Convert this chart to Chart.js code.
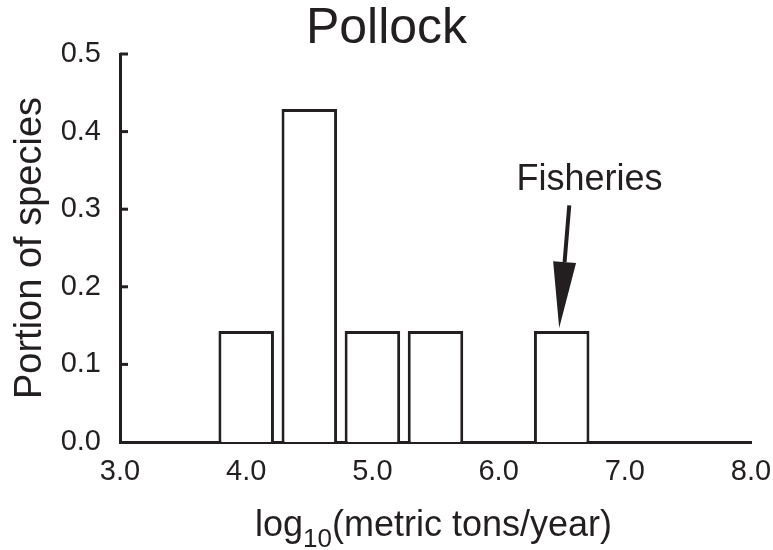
<!DOCTYPE html>
<html>
<head>
<meta charset="utf-8">
<script src="https://cdn.jsdelivr.net/npm/chart.js@4"></script>
<style>
  html, body { margin: 0; padding: 0; background: #fff; }
  #wrap { width: 773px; height: 550px; }
</style>
</head>
<body>
<div id="wrap"><canvas id="myChart" width="773" height="550"></canvas></div>
<script>
// histogram bins (log10 of catch) and share of species in each
const binCenters = [4.0, 4.5, 5.0, 5.5, 6.5];
const portions = [0.143, 0.429, 0.143, 0.143, 0.143];
const yTickValues = [0.1, 0.2, 0.3, 0.4, 0.5];

// label + arrow pointing at the fisheries bin, in data units
const fisheryLabel = { text: 'Fisheries', x: 6.72, y: 0.337 };
const fisheryArrow = { fromX: 6.56, fromY: 0.305, toX: 6.48, toY: 0.147 };

const fontFamily = '"Liberation Sans", Arial, Helvetica, sans-serif';
const ink = '#231f20';

const ctx = document.getElementById('myChart').getContext('2d');

const extras = {
    id: 'extras',
    afterDraw(chart) {
        const { ctx, chartArea, scales: { x, y } } = chart;
        ctx.save();

        // short ticks pointing into the plot
        ctx.strokeStyle = ink;
        ctx.lineWidth = 3;
        yTickValues.forEach(v => {
            const py = y.getPixelForValue(v);
            ctx.beginPath();
            ctx.moveTo(chartArea.left, py);
            ctx.lineTo(chartArea.left + 8, py);
            ctx.stroke();
        });

        // x axis title, with a subscript 10
        const big = '36px ' + fontFamily;
        const small = '26px ' + fontFamily;
        const parts = [['log', big, 0], ['10', small, 11], ['(metric tons/year)', big, 0]];
        let total = 0;
        parts.forEach(p => { ctx.font = p[1]; total += ctx.measureText(p[0]).width; });
        let tx = (chartArea.left + chartArea.right) / 2 - 2 - total / 2;
        const base = 536;
        ctx.fillStyle = ink;
        ctx.textAlign = 'left';
        ctx.textBaseline = 'alphabetic';
        parts.forEach(p => {
            ctx.font = p[1];
            ctx.fillText(p[0], tx, base + p[2]);
            tx += ctx.measureText(p[0]).width;
        });

        // annotation
        ctx.font = '36px ' + fontFamily;
        ctx.textAlign = 'center';
        ctx.textBaseline = 'middle';
        ctx.fillText(fisheryLabel.text, x.getPixelForValue(fisheryLabel.x), y.getPixelForValue(fisheryLabel.y));

        const x0 = x.getPixelForValue(fisheryArrow.fromX);
        const y0 = y.getPixelForValue(fisheryArrow.fromY);
        const x1 = x.getPixelForValue(fisheryArrow.toX);
        const y1 = y.getPixelForValue(fisheryArrow.toY);
        const len = Math.hypot(x1 - x0, y1 - y0);
        const ux = (x1 - x0) / len, uy = (y1 - y0) / len;
        const headLen = 66, headHalf = 11.5;
        const bx = x1 - ux * headLen, by = y1 - uy * headLen;
        ctx.lineWidth = 4;
        ctx.beginPath();
        ctx.moveTo(x0, y0);
        ctx.lineTo(bx, by);
        ctx.stroke();
        ctx.beginPath();
        ctx.moveTo(x1, y1);
        ctx.lineTo(bx - uy * headHalf, by + ux * headHalf);
        ctx.lineTo(bx + uy * headHalf, by - ux * headHalf);
        ctx.closePath();
        ctx.fill();

        ctx.restore();
    }
};

const myChart = new Chart(ctx, {
    type: 'bar',
    data: {
        datasets: [{
            data: binCenters.map((c, i) => ({ x: c, y: portions[i] })),
            backgroundColor: '#ffffff',
            borderColor: ink,
            borderWidth: 3,
            barPercentage: 0.88,
            categoryPercentage: 1
        }]
    },
    options: {
        responsive: false,
        animation: false,
        layout: { padding: { left: 0, right: 0, top: 0, bottom: 0 } },
        scales: {
            x: {
                type: 'linear',
                min: 3,
                max: 8,
                offset: false,
                grid: { display: false, drawTicks: false },
                border: { display: true, color: ink, width: 3 },
                ticks: {
                    stepSize: 1,
                    padding: 13,
                    color: ink,
                    font: { family: fontFamily, size: 29 },
                    maxRotation: 0,
                    callback: v => Number(v).toFixed(1)
                },
                afterFit(scale) {
                    scale.height = 108;
                    scale.paddingRight = 22;
                }
            },
            y: {
                min: 0,
                max: 0.5,
                grid: { display: false, drawTicks: false },
                border: { display: true, color: ink, width: 3 },
                ticks: {
                    stepSize: 0.1,
                    padding: 19,
                    color: ink,
                    font: { family: fontFamily, size: 29 },
                    callback: v => Number(v).toFixed(1)
                },
                title: {
                    display: true,
                    text: 'Portion of species',
                    color: ink,
                    font: { family: fontFamily, size: 38 },
                    padding: { top: 8, bottom: 0 }
                },
                afterFit(scale) { scale.width = 120; }
            }
        },
        plugins: {
            legend: { display: false },
            tooltip: { enabled: false },
            title: {
                display: true,
                text: 'Pollock',
                color: ink,
                font: { family: fontFamily, size: 50, weight: 'normal', lineHeight: 1 },
                padding: { top: 4, bottom: 0 }
            }
        }
    },
    plugins: [extras]
});
</script>
</body>
</html>
